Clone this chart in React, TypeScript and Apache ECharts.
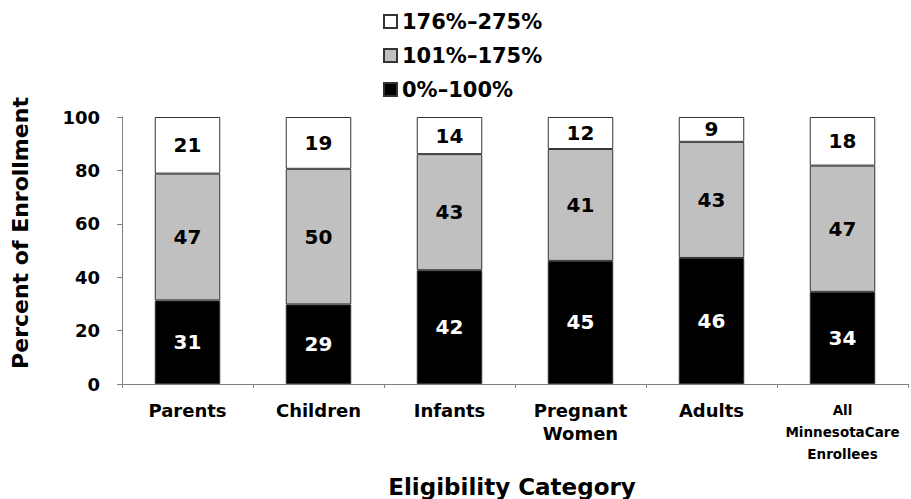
import React, { useEffect, useRef } from "react";
import * as echarts from "echarts";

const categories = ["Parents", "Children", "Infants", "Pregnant\nWomen", "Adults", "All\nMinnesotaCare\nEnrollees"];
const seriesNames = ["0%–100%", "101%–175%", "176%–275%"];
// segment heights (percent of enrollment)
const lowValues = [31.3, 29.8, 42.6, 46.1, 47.2, 34.5];
const midValues = [47.5, 50.8, 43.5, 41.9, 43.5, 47.3];
const highValues = [21.2, 19.4, 13.9, 12.0, 9.3, 18.2];
// printed labels
const lowLabels = [31, 29, 42, 45, 46, 34];
const midLabels = [47, 50, 43, 41, 43, 47];
const highLabels = [21, 19, 14, 12, 9, 18];
const yTicks = [0, 20, 40, 60, 80, 100];

const FONT = "'DejaVu Sans', sans-serif";

export default function App() {
  const ref = useRef<HTMLDivElement>(null);
  useEffect(() => {
    document.body.style.margin = "0";
    if (!ref.current) return;
    const chart = echarts.init(ref.current, undefined, { renderer: "svg" });
    const labelStyle = (color: string, labels: number[]) => ({
      show: true,
      position: "inside",
      color,
      fontFamily: FONT,
      fontWeight: "bold",
      fontSize: 20,
      formatter: (p: any) => String(labels[p.dataIndex]),
    });
    const border = { borderColor: "#333333", borderWidth: 1 };
    chart.setOption({
      animation: false,
      backgroundColor: "#ffffff",
      grid: { left: 122, right: 3, top: 117, bottom: 115 },
      legend: {
        orient: "vertical",
        left: 383,
        top: 11,
        padding: 0,
        itemWidth: 13,
        itemHeight: 13,
        itemGap: 13,
        icon: "rect",
        data: [seriesNames[2], seriesNames[1], seriesNames[0]],
        textStyle: { fontFamily: FONT, fontWeight: "bold", fontSize: 21, color: "#000", lineHeight: 20 },
      },
      xAxis: {
        type: "category",
        data: categories.map((c, i) =>
          i === categories.length - 1
            ? {
                value: c,
                textStyle: {
                  fontFamily: FONT,
                  fontWeight: "bold",
                  fontSize: 13.5,
                  lineHeight: 22,
                },
              }
            : c
        ),
        axisLine: { lineStyle: { color: "#808080", width: 1 } },
        axisTick: { show: true, length: 4, lineStyle: { color: "#808080" } },
        axisLabel: {
          interval: 0,
          margin: 15,
          color: "#000",
          fontFamily: FONT,
          fontWeight: "bold",
          fontSize: 18,
          lineHeight: 23,
        },
      },
      yAxis: {
        type: "value",
        min: yTicks[0],
        max: yTicks[yTicks.length - 1],
        interval: 20,
        splitLine: { show: false },
        axisLine: { show: true, lineStyle: { color: "#808080", width: 1 } },
        axisTick: { show: true, length: 5, lineStyle: { color: "#808080" } },
        axisLabel: {
          margin: 22,
          color: "#000",
          fontFamily: FONT,
          fontWeight: "bold",
          fontSize: 18,
        },
      },
      graphic: [
        {
          type: "text",
          x: 20,
          y: 233,
          rotation: Math.PI / 2,
          style: {
            text: "Percent of Enrollment",
            align: "center",
            verticalAlign: "middle",
            fill: "#000",
            font: "bold 22px 'DejaVu Sans', sans-serif",
          },
        },
        {
          type: "text",
          x: 512,
          y: 487,
          style: {
            text: "Eligibility Category",
            align: "center",
            verticalAlign: "middle",
            fill: "#000",
            font: "bold 23px 'DejaVu Sans', sans-serif",
          },
        },
      ],
      series: [
        {
          name: seriesNames[0],
          type: "bar",
          stack: "total",
          barWidth: "50%",
          data: lowValues,
          itemStyle: { color: "#000000", ...border },
          label: labelStyle("#ffffff", lowLabels),
        },
        {
          name: seriesNames[1],
          type: "bar",
          stack: "total",
          data: midValues,
          itemStyle: { color: "#C0C0C0", ...border },
          label: labelStyle("#000000", midLabels),
        },
        {
          name: seriesNames[2],
          type: "bar",
          stack: "total",
          data: highValues,
          itemStyle: { color: "#ffffff", ...border },
          label: labelStyle("#000000", highLabels),
        },
      ],
    });
    return () => chart.dispose();
  }, []);
  return <div ref={ref} style={{ width: 911, height: 499 }} />;
}
